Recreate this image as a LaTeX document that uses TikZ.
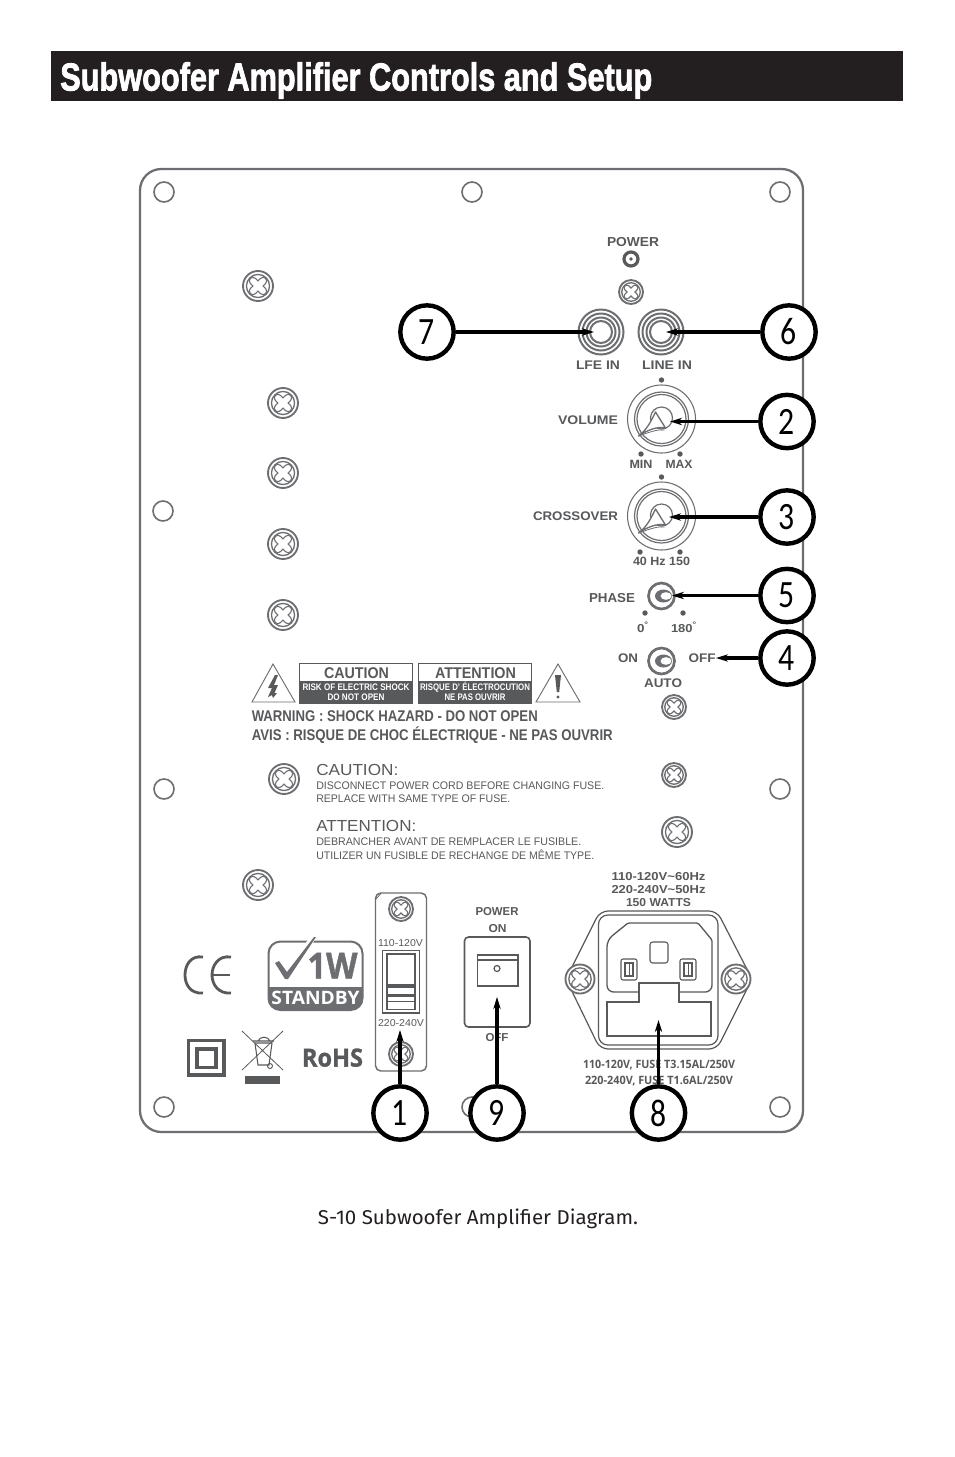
\documentclass[tikz,border=0pt]{standalone}
\usepackage{graphicx}
\usepackage{fontspec}
\setmainfont{Liberation Sans}
\newfontfamily\capfont{Fira Sans}
\newfontfamily\numfont{Carlito}
\newfontfamily\opfont{Open Sans}
\newfontfamily\titlefont{Liberation Sans Bold}[FakeBold=2.2]
\newfontfamily\opheavy{Open Sans Bold}[FakeBold=1.2]
\usetikzlibrary{arrows.meta}
\definecolor{ink}{HTML}{231F20}
\definecolor{gr}{HTML}{58595B}
\definecolor{lg}{HTML}{6D6E71}
\newdimen\px \px=0.75pt
% width-fitted text: width px, font size px, text
\newcommand\fw[3]{\resizebox{#1\px}{\height}{\fontsize{\the\dimexpr#2\px\relax}{\the\dimexpr#2\px\relax}\selectfont #3}}
\newcommand\dg[1]{\scalebox{0.82}[1]{#1}}
\newcommand\screw[3]{%
  \begin{scope}[shift={(#1,#2)}]
    \draw[lg,line width=1.4pt] (0,0) circle[radius=#3];
    \draw[lg,line width=1pt] (0,0) circle[radius=#3*0.77];
    \draw[lg,line width=#3*0.42pt,line cap=round] (-#3*0.34,-#3*0.34)--(#3*0.34,#3*0.34) (-#3*0.34,#3*0.34)--(#3*0.34,-#3*0.34);
    \draw[white,line width=#3*0.42pt-2pt,line cap=round] (-#3*0.34,-#3*0.34)--(#3*0.34,#3*0.34) (-#3*0.34,#3*0.34)--(#3*0.34,-#3*0.34);
  \end{scope}}
\newcommand\knob[2]{%
  \begin{scope}[shift={(#1,#2)}]
    \draw[lg,line width=0.8pt] (0,0) circle[radius=34];
    \draw[lg,line width=0.9pt] (0,0) circle[radius=27];
    \draw[lg,line width=0.9pt] (0,0) circle[radius=24.5];
    \draw[lg,line width=0.9pt] (0,-1) circle[radius=11];
    \draw[lg,line width=1pt,fill=white,line join=round] (-23,17) .. controls (-14,10) and (-11,3) .. (-6,-7) -- (4,9) .. controls (-4,7) and (-14,11) .. (-23,17) -- cycle;
    \draw[lg,line width=0.6pt] (-23,17) .. controls (-14,14) and (-5,10) .. (3,11);
  \end{scope}}
\newcommand\jack[2]{%
  \begin{scope}[shift={(#1,#2)}]
    \foreach \r in {22.5,18.5,14.5,11}{\draw[lg,line width=1.5pt] (0,0) circle[radius=\r];}
  \end{scope}}
\newcommand\toggle[2]{%
  \begin{scope}[shift={(#1,#2)}]
    \draw[lg,line width=2pt] (0,0) circle[radius=13];
    \fill[lg] (2,0) ellipse[x radius=8.5,y radius=6.5];
    \fill[white] (4.5,0) ellipse[x radius=5.5,y radius=3.8];
  \end{scope}}
\tikzset{
  x=0.75pt,y=-0.75pt,
  lab/.style={inner sep=0pt,text=gr,font=\bfseries,yshift=-0.5pt},
  lit/.style={inner sep=0pt,text=gr,yshift=-0.5pt},
  numc/.style={circle,draw=black,line width=3.3pt,fill=white,minimum size=40pt,inner sep=0pt,font=\numfont\fontsize{29}{29}\selectfont},
  arr/.style={draw=black,line width=2.9pt,-{Stealth[length=9pt,width=5.5pt]}},
  hole/.style={draw=lg,line width=1.2pt,fill=white},
  pan/.style={draw=lg,line width=1.1pt},
  dot/.style={fill=gr},
}
\begin{document}
\begin{tikzpicture}
\useasboundingbox (0,0) rectangle (954,1457);
\fill[white] (0,0) rectangle (954,1457);
% title
\fill[ink] (51,51) rectangle (903,101);
\node[anchor=base west,inner sep=0pt,text=white,font=\titlefont] (title) at (60,90.5) {\fw{592}{39}{Subwoofer Amplifier Controls and Setup}};
% plate
\draw[draw=lg,line width=1.7pt,rounded corners=16pt] (140,169) rectangle (803,1132);
\foreach \x/\y in {164/192,472/192,780/192,163/511,164/789,780/789,164/1107,472/1107,780/1107}{\draw[hole] (\x,\y) circle[radius=10];}
\foreach \x/\y/\r in {258/286/15,283/403/15,283/473/15,283/544/15,283/615/15,284/779/15,258/885/15,674/707/12,674/775/12,677/832/15,631/292/12,401/909/12,401/1054/12}{\screw{\x}{\y}{\r}}
% top controls
\node[lab] (lpower) at (633,241) {\fw{52}{13}{POWER}};
\draw[gr,line width=2.4pt] (631,259) circle[radius=7];
\fill[gr] (631,259) circle[radius=1.8];
\jack{601}{332}\jack{661}{332}
\node[lab] (llfe) at (598,365) {\fw{44}{12.5}{LFE IN}};
\node[lab] (lline) at (667,365) {\fw{50}{12.5}{LINE IN}};
\knob{661.5}{419}\knob{661.5}{516}
\node[lab] (lvol) at (588,420) {\fw{60}{12.5}{VOLUME}};
\node[lab] (lmin) at (641,464) {\fw{23}{12}{MIN}};
\node[lab] (lmax) at (679,464) {\fw{27}{12}{MAX}};
\node[lab] (lcross) at (575.5,516) {\fw{85}{12.5}{CROSSOVER}};
\node[lab] (lhz) at (661.5,561) {\fw{57}{12}{40 Hz 150}};
\foreach \x/\y in {661.5/380,641/454,680/454,661.5/477,640/552,680/552,645/613,683/613}{\fill[dot] (\x,\y) circle[radius=2.7];}
\toggle{661.5}{596}\toggle{661.5}{661}
\node[lab] (lphase) at (612,597) {\fw{46}{13}{PHASE}};
\node[lab] (lzero) at (643,627) {\fw{12}{11.5}{0\textsuperscript{°}}};
\node[lab] (loneeighty) at (684,627) {\fw{26}{11.5}{180\textsuperscript{°}}};
\node[lab] (lon) at (628,658) {\fw{20}{12.5}{ON}};
\node[lab] (loff) at (702,658) {\fw{27}{12.5}{OFF}};
\node[lab] (lauto) at (663,683) {\fw{38}{12.5}{AUTO}};
% warnings
\draw[lg,line width=0.7pt,line join=miter] (252,702)--(273,664)--(295,702)--cycle;
\fill[gr] (275,675)--(268,688)--(272,688)--(268,697)--(272,695)--(273,698)--(277,693)--(274.5,693)--(278,685)--(274,685)--(278,675)--cycle;
\draw[lg,line width=0.7pt,line join=miter] (536,702)--(558,664)--(580,702)--cycle;
\fill[gr] (555,675) -- (561,675) -- (559.2,692) -- (556.8,692) -- cycle;
\fill[gr] (558,697) circle[radius=1.6];
\draw[gr,line width=0.7pt] (299.5,663.5) rectangle (412.5,703);
\fill[gr] (299.5,681) rectangle (412.5,703);
\draw[gr,line width=0.7pt] (418.5,663.5) rectangle (531.5,703);
\fill[gr] (418.5,681) rectangle (531.5,703);
\node[lab] (tcaut) at (356.5,672.5) {\fw{65}{15.5}{CAUTION}};
\node[lab] (tatt) at (475.5,672.5) {\fw{81}{15.5}{ATTENTION}};
\node[lab,text=white] (trisk) at (356,687) {\fw{107}{9.5}{RISK OF ELECTRIC SHOCK}};
\node[lab,text=white] (tdono) at (356,696.5) {\fw{57}{9.5}{DO NOT OPEN}};
\node[lab,text=white] (trisq) at (475,687) {\fw{110}{9.5}{RISQUE D' ÉLECTROCUTION}};
\node[lab,text=white] (tnepa) at (475,696.5) {\fw{61}{9.5}{NE PAS OUVRIR}};
\node[lab,anchor=west] (twarn) at (251.5,715.5) {\fw{286}{15.5}{WARNING : SHOCK HAZARD - DO NOT OPEN}};
\node[lab,anchor=west] (tavis) at (251.5,734.5) {\fw{361}{15.5}{AVIS : RISQUE DE CHOC ÉLECTRIQUE - NE PAS OUVRIR}};
\node[lit,anchor=west] (c1) at (316,769.5) {\fw{82}{16}{CAUTION:}};
\node[lit,anchor=west] (c2) at (316,785.5) {\fw{288}{11}{DISCONNECT POWER CORD BEFORE CHANGING FUSE.}};
\node[lit,anchor=west] (c3) at (316,798.5) {\fw{194}{11}{REPLACE WITH SAME TYPE OF FUSE.}};
\node[lit,anchor=west] (a1) at (316,825.5) {\fw{100}{16}{ATTENTION:}};
\node[lit,anchor=west] (a2) at (316,841.5) {\fw{265}{11}{DEBRANCHER AVANT DE REMPLACER LE FUSIBLE.}};
\node[lit,anchor=west] (a3) at (316,854.5) {\fw{278}{11}{UTILIZER UN FUSIBLE DE RECHANGE DE MÊME TYPE.}};
% CE
\draw[gr,line width=2.1pt] (203,957) .. controls (190,955) and (185,966) .. (185,975) .. controls (185,984) and (190,994) .. (203,993);
\draw[gr,line width=2.1pt] (231,957) .. controls (218,955) and (212,966) .. (212,975) .. controls (212,984) and (218,994) .. (231,993);
\draw[gr,line width=2.1pt] (212,975) -- (230,975);
% standby
\draw[lg,line width=1.5pt,fill=white,rounded corners=9pt] (268.5,941.5) rectangle (362.5,1010);
\fill[lg,rounded corners=8pt] (268,987) -- (268,1010) -- (363,1010) -- (363,987) -- cycle;
\fill[lg] (268,987) rectangle (363,996);
\node[lab,text=lg,font=\opheavy] (t1w) at (332.5,965) {\fw{50}{36}{1W}};
\node[lab,text=white,font=\opfont\bfseries] (tstand) at (315.5,997) {\fw{88}{18.5}{STANDBY}};
\fill[white] (273,962)--(279,958)--(287,968)--(313,933)--(319,933)--(289,982)--(284,982)--cycle;
\fill[lg] (275,963)--(279,961)--(287,972)--(314,937)--(316,937)--(288,979)--(285,979)--cycle;
% double-insulated
\draw[gr,line width=2.5pt] (188.5,1040.5) rectangle (224,1075);
\draw[gr,line width=2.5pt] (197,1049) rectangle (216,1067.5);
% bin
\draw[gr,line width=0.6pt] (242,1031) -- (283,1070) (283,1031) -- (242,1070);
\draw[gr,line width=0.8pt] (255,1043) -- (258,1065) -- (269,1065) -- (272,1043) -- cycle (253,1041)--(274,1041) (258,1041) .. controls (260,1036) and (268,1036) .. (270,1041);
\draw[gr,line width=0.7pt] (270,1066) circle[radius=2.5];
\fill[gr] (245,1076) rectangle (280,1084);
\node[lab,font=\opheavy] (trohs) at (332.5,1057) {\fw{61}{25}{RoHS}};
% voltage panel
\draw[pan,rounded corners=4pt] (375.5,893) rectangle (426.5,1071);
\draw[lg,line width=0.6pt] (376,899) -- (381,893.5);
\node[lit] (tv1) at (400.5,942) {\fw{45}{10}{110-120V}};
\node[lit] (tv2) at (401,1022) {\fw{46}{10}{220-240V}};
\draw[gr,line width=1.2pt,fill=white] (382.5,950.5) rectangle (419.5,1013);
\draw[gr,line width=0.9pt] (387,954) rectangle (415,1009.5);
\draw[gr,line width=0.9pt,fill=white] (387,954) rectangle (415,985);
\fill[gr] (387,985) rectangle (415,987.5);
\fill[gr] (387,994) rectangle (415,1002);
\fill[white] (388,997) rectangle (414,1001);
% power switch
\node[lab] (tpow) at (497,911) {\fw{43}{11.5}{POWER}};
\node[lab] (tpon) at (497.5,928) {\fw{18}{11.5}{ON}};
\node[lab] (tpoff) at (497,1037) {\fw{23}{11.5}{OFF}};
\draw[gr,line width=1.2pt,rounded corners=3pt] (464.5,937) rectangle (530,1027);
\draw[gr,line width=1.3pt] (477.5,955) rectangle (518,986);
\draw[gr,line width=1pt] (477.5,960) -- (518,960);
\draw[gr,line width=0.9pt] (497,968.5) circle[radius=3];
% IEC inlet
\node[lab] (tiec1) at (658.5,876) {\fw{94}{11.5}{110-120V\~{}60Hz}};
\node[lab] (tiec2) at (658.5,889) {\fw{94}{11.5}{220-240V\~{}50Hz}};
\node[lab] (tiec3) at (658.5,902) {\fw{65}{11.5}{150 WATTS}};
\draw[gr,line width=0.9pt,line join=round,rounded corners=6pt] (566,979) -- (600,911) -- (717,911) -- (752,979) -- (717,1049) -- (600,1049) -- cycle;
\draw[gr,line width=0.9pt,rounded corners=7pt] (598.5,915) rectangle (718,1045);
\draw[gr,line width=1pt,rounded corners=5pt] (639,992) -- (607,992) -- (607,940) [rounded corners=1pt] -- (628,923) -- (698,923) -- (712,940) [rounded corners=5pt] -- (712,992) -- (679,992);
\draw[gr,line width=1pt] (639,992) -- (639,983) -- (679,983) -- (679,992);
\draw[gr,line width=1.5pt] (639,992) -- (639,1002) -- (607,1002) -- (607,1036) -- (711,1036) -- (711,1002) -- (679,1002) -- (679,992);
\draw[gr,line width=0.8pt,rounded corners=2pt] (650,942) rectangle (668,963);
\foreach \x in {629,688}{
  \draw[gr,line width=0.8pt,rounded corners=1.5pt] (\x-8,959) rectangle (\x+8,980);
  \draw[gr,line width=0.8pt] (\x-4,963) rectangle (\x+4,976);
  \draw[gr,line width=0.6pt] (\x,963) -- (\x,976);
}
\foreach \x/\y in {580/979,736/979}{\fill[white] (\x,\y) circle[radius=15];\screw{\x}{\y}{14.5}}
\node[lab,font=\opfont\bfseries] (tf1) at (659,1064) {\fw{152}{11.5}{110-120V, FUSE T3.15AL/250V}};
\node[lab,font=\opfont\bfseries] (tf2) at (659,1080) {\fw{148}{11.5}{220-240V, FUSE T1.6AL/250V}};
% caption
\node[inner sep=0pt,text=ink,font=\capfont] (cap) at (478,1219) {\fw{320}{20}{S-10 Subwoofer Amplifier Diagram.}};
% callouts
\node[numc] (n7) at (427,332) {\dg{7}};
\node[numc] (n6) at (789,332) {\dg{6}};
\node[numc] (n2) at (787,421.5) {\dg{2}};
\node[numc] (n3) at (787,517) {\dg{3}};
\node[numc] (n5) at (787,595.5) {\dg{5}};
\node[numc] (n4) at (787,658) {\dg{4}};
\node[numc] (n1) at (400,1113) {\dg{1}};
\node[numc] (n9) at (497,1113) {\dg{9}};
\node[numc] (n8) at (658.5,1113) {\dg{8}};
\coordinate (t7) at (594,332);
\coordinate (t6) at (666,332);
\coordinate (t2) at (670,421.5);
\coordinate (t3) at (669,517);
\coordinate (t5) at (672,595.5);
\coordinate (t4) at (716,658);
\coordinate (t1) at (400,1030);
\coordinate (t9) at (497,997);
\coordinate (t8) at (658.5,1020);
\foreach \a in {7,6,2,3,5,4,1,9,8}{\draw[arr] (n\a) -- (t\a);}
\end{tikzpicture}
\end{document}
